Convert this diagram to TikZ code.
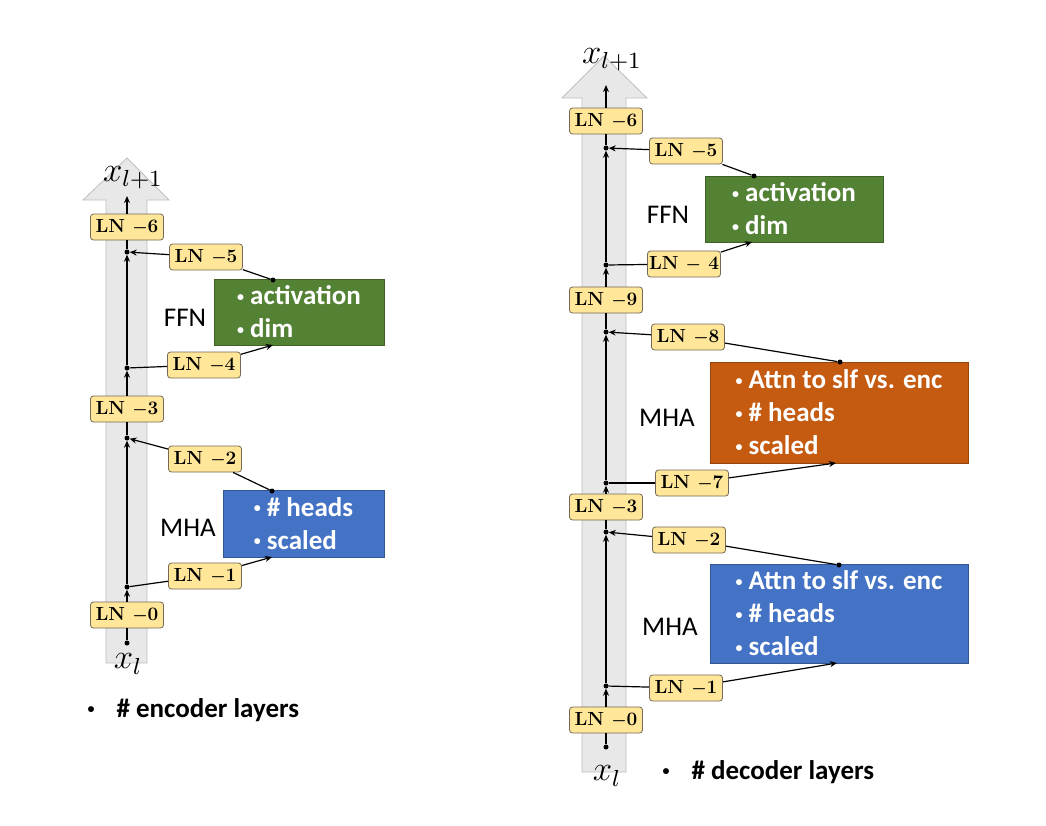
\documentclass[tikz,border=0pt]{standalone}
\usepackage{fontspec}
\usepackage{graphicx}
\usepackage{tikz}
\usetikzlibrary{arrows.meta}
\newfontfamily\calibri{Carlito}
\newcommand\bul{\raisebox{3.5pt}{\fontsize{14}{14}\selectfont\textbullet}}
\definecolor{lnfill}{RGB}{255,230,153}
\definecolor{lnline}{RGB}{115,105,85}
\definecolor{shaftgray}{RGB}{232,232,232}
\definecolor{shaftline}{RGB}{190,190,190}
\definecolor{ffngreen}{RGB}{84,130,53}
\definecolor{mhablue}{RGB}{68,114,196}
\definecolor{mhaorange}{RGB}{197,90,17}
\tikzset{
  ln/.style={draw=lnline, line width=0.8pt, fill=lnfill, rounded corners=3pt, minimum width=73pt, minimum height=26pt, inner sep=0pt, font=\bfseries\boldmath\fontsize{19}{19}\selectfont},
  hp/.style={fill=#1, draw=#1!75!black, align=left, text=white, inner sep=0pt, font=\calibri\bfseries\fontsize{27}{33}\selectfont},
  blk/.style={font=\calibri\fontsize{27}{27}\selectfont},
  resid/.style={line width=1.6pt, -{Stealth[length=7pt,width=6pt]}},
  side/.style={line width=1.2pt},
  jdot/.style={circle, fill=black, inner sep=0pt, minimum size=5pt},
  shaft/.style={fill=shaftgray, draw=shaftline, line width=0.8pt},
  xs/.style={font=\fontsize{12}{12}\selectfont, inner sep=0pt},
}
\begin{document}
\begin{tikzpicture}[x=1pt,y=-1pt]
  \useasboundingbox (0,0) rectangle (1046,825);

  \draw[shaft] (106,663) -- (106,200) -- (83,200) -- (127,158) -- (169,200) -- (147,200) -- (147,663) -- cycle;
  \draw[shaft] (582,772) -- (582,98) -- (562,98) -- (604,56) -- (647,98) -- (626,98) -- (626,772) -- cycle;

  \draw (127,643) node[jdot] (lb) {};
  \draw (127,587) node[jdot] (j1) {};
  \draw (127,438) node[jdot] (j2) {};
  \draw (127,368) node[jdot] (j3) {};
  \draw (127,252) node[jdot] (j4) {};
  \coordinate (ltop) at (127,196);

  \draw (127,615) node[ln] (l0) {LN $-$0};
  \draw (205,576) node[ln] (l1) {LN $-$1};
  \draw (205,459) node[ln] (l2) {LN $-$2};
  \draw (127,409) node[ln] (l3) {LN $-$3};
  \draw (204,365) node[ln] (l4) {LN $-$4};
  \draw (206,257) node[ln] (l5) {LN $-$5};
  \draw (127,227) node[ln] (l6) {LN $-$6};

  \draw (303.5,523.5) node[hp=mhablue, minimum width=161pt, minimum height=67pt] (mha) {\bul{} \# heads\\\bul{} scaled};
  \draw (299,312) node[hp=ffngreen, minimum width=170pt, minimum height=66pt] (ffn) {\bul{} activation\\\bul{} dim};
  \coordinate (mIn) at (272,557);
  \draw (272,491) node[jdot] (mOut) {};
  \coordinate (fIn) at (273,345);
  \draw (273,280) node[jdot] (fOut) {};

  \draw (188,528) node[blk] (mhat) {MHA};
  \draw (185,318) node[blk] (ffnt) {FFN};

  \draw[side] (lb) -- (l0);
  \draw[resid] (l0) -- (j1);
  \draw[resid] (j1) -- (j2);
  \draw[side] (j2) -- (l3);
  \draw[resid] (l3) -- (j3);
  \draw[resid] (j3) -- (j4);
  \draw[side] (j4) -- (l6);
  \draw[resid] (l6) -- (ltop);

  \draw[side] (j1) -- (l1);
  \draw[side, -{Stealth[length=7pt,width=6pt]}] (l1) -- (mIn);
  \draw[side] (mOut) -- (l2);
  \draw[side, -{Stealth[length=7pt,width=6pt]}] (l2) -- (j2);
  \draw[side] (j3) -- (l4);
  \draw[side, -{Stealth[length=7pt,width=6pt]}] (l4) -- (fIn);
  \draw[side] (fOut) -- (l5);
  \draw[side, -{Stealth[length=7pt,width=6pt]}] (l5) -- (j4);

  \draw (133,178) node[xs] (xout) {\scalebox{2.9}{$x_{l+1}$}};
  \draw (128,664) node[xs] (xin) {\scalebox{2.9}{$x_l$}};
  \draw (84,710) node[anchor=west, font=\calibri\bfseries\fontsize{27}{27}\selectfont] (enc) {\bul\hspace{22pt}\# encoder layers};

  \draw (606,747) node[jdot] (rb) {};
  \draw (606,686) node[jdot] (k1) {};
  \draw (606,532) node[jdot] (k2) {};
  \draw (606,483) node[jdot] (k3) {};
  \draw (606,332) node[jdot] (k4) {};
  \draw (606,265) node[jdot] (k5) {};
  \draw (606,148) node[jdot] (k6) {};
  \coordinate (rtop) at (606,85);

  \draw (606,720) node[ln] (r0) {LN $-$0};
  \draw (686,688) node[ln] (r1) {LN $-$1};
  \draw (689,540) node[ln] (r2) {LN $-$2};
  \draw (606,507) node[ln] (r3) {LN $-$3};
  \draw (692,483) node[ln] (r7) {LN $-$7};
  \draw (688,337) node[ln] (r8) {LN $-$8};
  \draw (606,300) node[ln] (r9) {LN $-$9};
  \draw (684,264) node[ln] (r4) {LN $-$ 4};
  \draw (686,151) node[ln] (r5) {LN $-$5};
  \draw (606,121) node[ln] (r6) {LN $-$6};

  \draw (839,613.5) node[hp=mhablue, minimum width=258pt, minimum height=99pt] (dmha) {\bul{} Attn to slf vs. enc\\\bul{} \# heads\\\bul{} scaled};
  \draw (839,412.5) node[hp=mhaorange, minimum width=258pt, minimum height=101pt] (cmha) {\bul{} Attn to slf vs. enc\\\bul{} \# heads\\\bul{} scaled};
  \draw (794,209) node[hp=ffngreen, minimum width=178pt, minimum height=66pt] (dffn) {\bul{} activation\\\bul{} dim};
  \coordinate (dIn) at (837,663);
  \draw (839,565) node[jdot] (dOut) {};
  \coordinate (cIn) at (836,463);
  \draw (840,362) node[jdot] (cOut) {};
  \coordinate (gIn) at (752,242);
  \draw (754,176) node[jdot] (gOut) {};

  \draw (670,627) node[blk] (dmhat) {MHA};
  \draw (667,418) node[blk] (cmhat) {MHA};
  \draw (668,215) node[blk] (dffnt) {FFN};

  \draw[side] (rb) -- (r0);
  \draw[resid] (r0) -- (k1);
  \draw[resid] (k1) -- (k2);
  \draw[side] (k2) -- (r3);
  \draw[resid] (r3) -- (k3);
  \draw[resid] (k3) -- (k4);
  \draw[side] (k4) -- (r9);
  \draw[resid] (r9) -- (k5);
  \draw[resid] (k5) -- (k6);
  \draw[side] (k6) -- (r6);
  \draw[resid] (r6) -- (rtop);

  \draw[side] (k1) -- (r1);
  \draw[side, -{Stealth[length=7pt,width=6pt]}] (r1) -- (dIn);
  \draw[side] (dOut) -- (r2);
  \draw[side, -{Stealth[length=7pt,width=6pt]}] (r2) -- (k2);
  \draw[side] (k3) -- (r7);
  \draw[side, -{Stealth[length=7pt,width=6pt]}] (r7) -- (cIn);
  \draw[side] (cOut) -- (r8);
  \draw[side, -{Stealth[length=7pt,width=6pt]}] (r8) -- (k4);
  \draw[side] (k5) -- (r4);
  \draw[side, -{Stealth[length=7pt,width=6pt]}] (r4) -- (gIn);
  \draw[side] (gOut) -- (r5);
  \draw[side, -{Stealth[length=7pt,width=6pt]}] (r5) -- (k6);

  \draw (612,60) node[xs] (dxout) {\scalebox{2.9}{$x_{l+1}$}};
  \draw (607,776) node[xs] (dxin) {\scalebox{2.9}{$x_l$}};
  \draw (659,772) node[anchor=west, font=\calibri\bfseries\fontsize{27}{27}\selectfont] (dec) {\bul\hspace{22pt}\# decoder layers};
\end{tikzpicture}
\end{document}
